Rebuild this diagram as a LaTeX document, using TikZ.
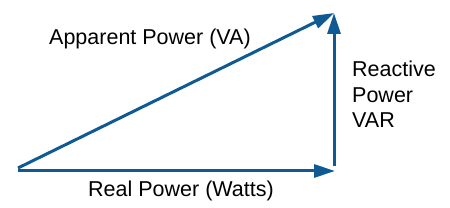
\documentclass[tikz,border=0pt]{standalone}
\usepackage{fontspec}
\setmainfont{Liberation Sans}
\usetikzlibrary{arrows.meta}
\definecolor{vecblue}{RGB}{16,90,148}
\begin{document}
\begin{tikzpicture}[x=1pt,y=1pt,
  vec/.style={draw=vecblue,line width=3pt,-{Triangle[length=21pt,width=13pt]}},
  lbl/.style={anchor=base west,inner sep=0pt,font=\fontsize{21.5}{25.5}\selectfont,text=black}]
\useasboundingbox (0,0) rectangle (450,-208);
\coordinate (o1) at (18,-171);
\coordinate (a1) at (335,-171);
\coordinate (o2) at (18,-168);
\coordinate (t2) at (334,-13);
\coordinate (b3) at (334,-166);
\coordinate (t3) at (334,-13);
\draw[vec] (o1) -- (a1);
\draw[vec] (o2) -- (t2);
\draw[vec] (b3) -- (t3);
\node[lbl] (app) at (49,-45) {Apparent Power (VA)};
\node[lbl] (real) at (88,-197) {Real Power (Watts)};
\node[lbl] (react1) at (352,-77) {Reactive};
\node[lbl] (react2) at (352,-103) {Power};
\node[lbl] (react3) at (352,-128) {VAR};
\end{tikzpicture}
\end{document}
